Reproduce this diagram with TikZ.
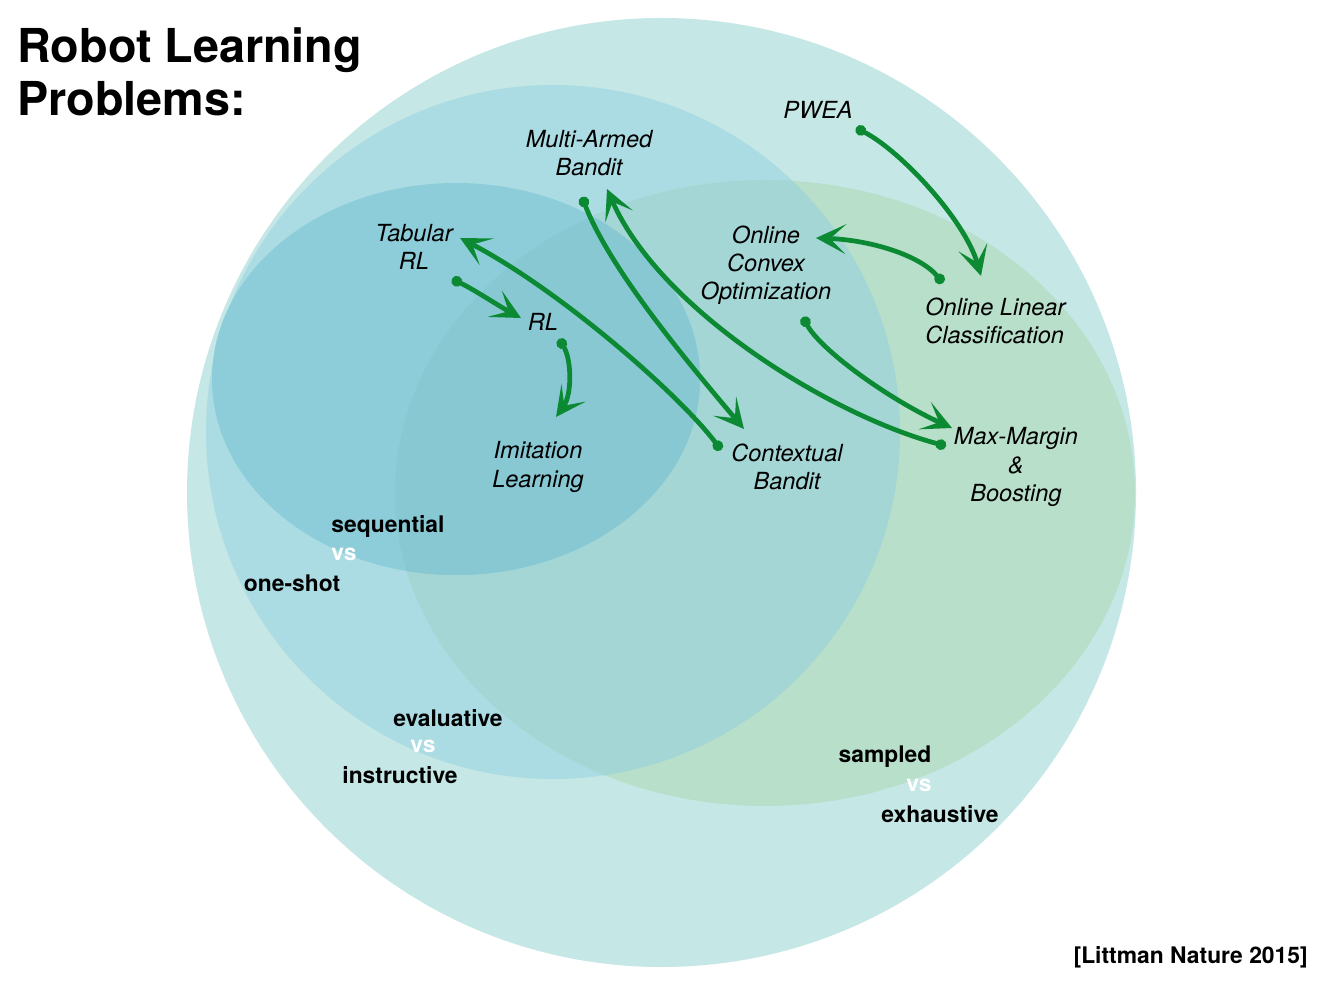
\documentclass[tikz,border=0pt]{standalone}
\usepackage{fontspec}
\setmainfont{TeX Gyre Heros}
\usetikzlibrary{arrows.meta}

\definecolor{outerC}{HTML}{C5E7E6}
\definecolor{blueC}{HTML}{ABDCE3}
\definecolor{greenC}{HTML}{B8DFCA}
\definecolor{blueGreenC}{HTML}{A3D6D4}
\definecolor{innerC}{HTML}{8CCDD9}
\definecolor{innerGreenC}{HTML}{88C8D3}
\definecolor{arrowC}{HTML}{0B8A33}

\tikzset{
  lbl/.style={font=\fontsize{13.4}{16}\selectfont\itshape, align=center, inner sep=0pt},
  axis/.style={font=\fontsize{13}{16}\selectfont\bfseries, inner sep=0pt},
  link/.style={draw=arrowC, line width=2.7pt, line cap=round,
    {Circle[length=6pt]}-{Stealth[length=17pt,width=17pt,inset=9pt]}},
}

\begin{document}
\begin{tikzpicture}[x=0.02cm, y=-0.02cm]
        \useasboundingbox[fill=white] (0,0) rectangle (1322,986);

        % --- 集合 (円と楕円) ---
        \fill[outerC] (661.5,492.5) circle [radius=474.5];
        \fill[blueC] (553,432) circle [radius=347];
        \fill[greenC] (765,493) ellipse [x radius=370, y radius=313];
        \begin{scope}
            \clip (765,493) ellipse [x radius=370, y radius=313];
            \fill[blueGreenC] (553,432) circle [radius=347];
        \end{scope}
        \fill[innerC] (456,379) ellipse [x radius=244, y radius=196];
        \begin{scope}
            \clip (765,493) ellipse [x radius=370, y radius=313];
            \fill[innerGreenC] (456,379) ellipse [x radius=244, y radius=196];
        \end{scope}

        % --- タイトル ---
        \node[anchor=north west, align=left, inner sep=0pt,
              font=\fontsize{26.6}{30.5}\selectfont\bfseries] (title) at (17,27) {Robot Learning\\Problems:};
        \node[axis, anchor=east] (cite) at (1308,957) {[Littman Nature 2015]};

        % --- 問題のラベル ---
        \node[lbl] (mab) at (589,153) {Multi-Armed\\Bandit};
        \node[lbl] (pwea) at (818,110) {PWEA};
        \node[lbl] (tab) at (414,247) {Tabular\\RL};
        \node[lbl] (rl) at (543,322) {RL};
        \node[lbl] (im) at (538,467) {Imitation\\Learning};
        \node[lbl] (cb) at (787,467) {Contextual\\Bandit};
        \node[lbl] (oco) at (766,265) {Online\\Convex\\Optimization};
        \node[lbl, align=left, anchor=west] (olc) at (925,321) {Online Linear\\Classification};
        \node[lbl] (mm) at (1016,467) {Max-Margin\\\&\\Boosting};

        % --- 軸 (太字, vs は白) ---
        \foreach \name/\txt/\x/\y/\col in {seq/sequential/388/526/black, vsA/vs/344/554/white, one/one-shot/292/583/black,
                                             eva/evaluative/448/718/black, vsB/vs/423/746/white, ins/instructive/400/775/black,
                                             sam/sampled/885/757/black, vsC/vs/919/785/white, exh/exhaustive/940/814/black} {
            \node[axis, text=\col] (\name) at (\x,\y) {\txt};
        }

        % --- 矢印の端点 ---
        \coordinate (tabS) at (452,279);
        \coordinate (tabE) at (460,238);
        \coordinate (rlW) at (521,318);
        \coordinate (rlS) at (559,339);
        \coordinate (imN) at (556,417);
        \coordinate (mabS) at (582,197);
        \coordinate (mabE) at (607,189);
        \coordinate (cbW) at (721,450);
        \coordinate (cbN) at (744,429);
        \coordinate (pweaS) at (856,128);
        \coordinate (olcN) at (981,276);
        \coordinate (olcW) at (943,283);
        \coordinate (ocoE) at (816,238);
        \coordinate (ocoS) at (803,317);
        \coordinate (mmN) at (952,428);
        \coordinate (mmW) at (946,446);

        % --- 矢印 ---
        \draw[link] (tabS) .. controls (475,290) and (497,305) .. (rlW);
        \draw[link] (rlS) .. controls (572,360) and (572,395) .. (imN);
        \draw[link] (cbW) .. controls (680,395) and (560,290) .. (tabE);
        \draw[link] (mabS) .. controls (610,270) and (690,365) .. (cbN);
        \draw[link] (mmW) .. controls (830,415) and (660,310) .. (mabE);
        \draw[link] (pweaS) .. controls (900,150) and (965,220) .. (olcN);
        \draw[link] (olcW) .. controls (920,255) and (870,240) .. (ocoE);
        \draw[link] (ocoS) .. controls (820,350) and (890,400) .. (mmN);

    \end{tikzpicture}
\end{document}
